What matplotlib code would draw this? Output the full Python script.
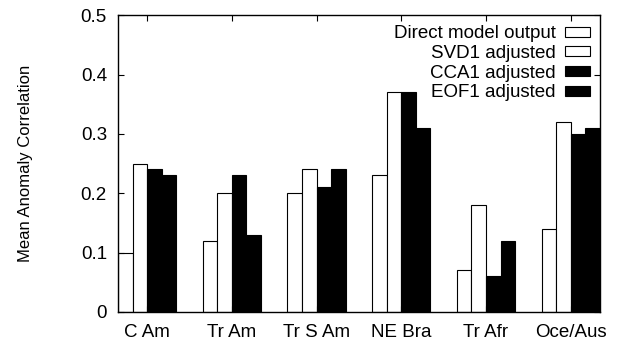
import numpy as np
import matplotlib
matplotlib.use('Agg')
import matplotlib.pyplot as plt

plt.rcParams['font.family'] = ['Liberation Sans', 'DejaVu Sans']

# Datos
regiones = ['C Am', 'Tr Am', 'Tr S Am', 'NE Bra', 'Tr Afr', 'Oce/Aus']
series = ['Direct model output', 'SVD1 adjusted', 'CCA1 adjusted', 'EOF1 adjusted']
directo = [0.10, 0.12, 0.20, 0.23, 0.07, 0.14]
svd1 = [0.25, 0.20, 0.24, 0.37, 0.18, 0.32]
cca1 = [0.24, 0.23, 0.21, 0.37, 0.06, 0.30]
eof1 = [0.23, 0.13, 0.24, 0.31, 0.12, 0.31]
colores = ['white', 'white', 'black', 'black']

fig = plt.figure(figsize=(6.21, 3.45), dpi=100)
ax = fig.add_axes([0.190, 0.096, 0.776, 0.860])

x = np.arange(len(regiones))
width = 0.172
valores = [directo, svd1, cca1, eof1]
for i, (vals, nombre, color) in enumerate(zip(valores, series, colores)):
    ax.bar(x + (i - 1.5) * width, vals, width, color=color, edgecolor='black',
           linewidth=0.8, label=nombre)

ax.set_xlim(-0.345, len(regiones) - 1 + 0.345)
ax.set_ylim(0, 0.5)
ax.set_xticks(x)
ax.set_xticklabels(regiones, fontsize=13.5)
ax.set_yticks([0, 0.1, 0.2, 0.3, 0.4, 0.5])
ax.set_yticklabels(['0', '0.1', '0.2', '0.3', '0.4', '0.5'], fontsize=13.5)
ax.tick_params(direction='in', top=True, right=True, length=4, width=0.8, pad=8)
ax.tick_params(axis='x', pad=9)
for s in ax.spines.values():
    s.set_linewidth(1.0)

ax.set_ylabel('Mean Anomaly Correlation', fontsize=12)
ax.yaxis.set_label_coords(-0.176, 0.5)

ax.legend(loc='upper right', frameon=False, markerfirst=False, fontsize=13.5,
          handlelength=1.3, handleheight=0.45, labelspacing=0.14,
          borderaxespad=0.25, handletextpad=0.5, borderpad=0.3)
for t in ax.get_legend().get_texts():
    t.set_ha('right')

fig.savefig('out.png', dpi=100)
